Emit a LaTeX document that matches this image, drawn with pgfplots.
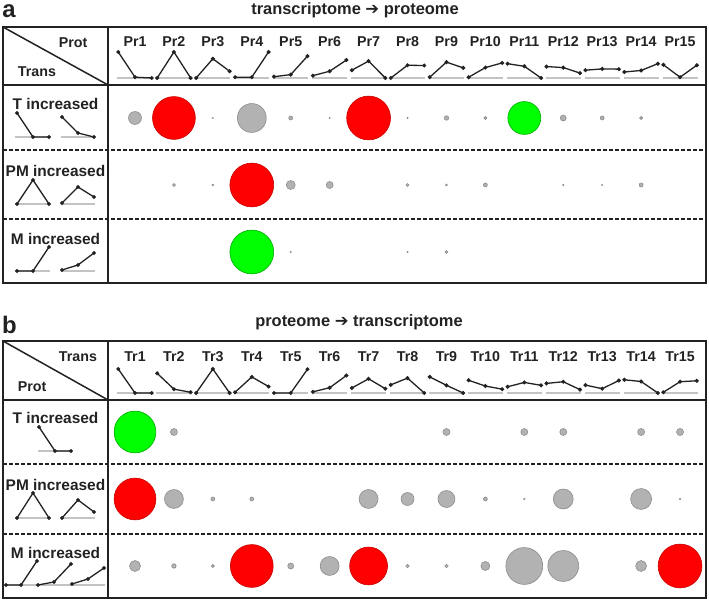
\documentclass[border=0pt]{standalone}
\usepackage{pgfplots}
\usepackage{pgfplotstable}
\pgfplotsset{compat=1.18}
\usepackage{fontspec}
\setmainfont{Liberation Sans}
\newfontfamily\symfont{DejaVu Sans}
\definecolor{txt}{RGB}{34,34,34}
\definecolor{bgray}{RGB}{178,178,178}
\definecolor{bgrayedge}{RGB}{140,140,140}
\definecolor{bred}{RGB}{255,0,0}
\definecolor{bredge}{RGB}{200,0,0}
\definecolor{bgreen}{RGB}{0,255,0}
\definecolor{bgreenedge}{RGB}{0,170,0}
\definecolor{basegray}{RGB}{195,195,195}
\newcommand\hdr{\fontsize{14.3}{16}\selectfont\bfseries}
\newcommand\rowf{\fontsize{15.5}{17}\selectfont\bfseries}
\newcommand\titf{\fontsize{16.5}{18}\selectfont\bfseries}
\newcommand\panf{\fontsize{24}{26}\selectfont\bfseries}

\pgfplotsset{
  panel/.style={anchor=north west, width=703bp, scale only axis,
    xmin=-2.3907, xmax=15.667, y dir=reverse, ticks=none, clip=false,
    axis line style={line width=2.2bp, txt}, unbounded coords=jump},
  bubble/.style 2 args={scatter, only marks, mark=*, forget plot,
    scatter/use mapped color={draw=#1, fill=#2},
    visualization depends on={\thisrow{d}/2 \as \rad},
    scatter/@pre marker code/.append style={/tikz/mark size=\rad},
    line width=0.6bp},
  prof/.style={txt, line width=1.3bp, mark=*, mark size=1.3bp, forget plot},
  base/.style={basegray, line width=1.2bp, forget plot},
}

% header profiles: column, point index, relative height (0 = baseline, 1 = top)
\pgfplotstableread{
c k h
1 0 1.00
1 1 0.03
1 2 0
1 nan nan
2 0 0
2 1 1.00
2 2 0
2 nan nan
3 0 0
3 1 0.74
3 2 0.26
3 nan nan
4 0 0.03
4 1 0.03
4 2 1.00
4 nan nan
5 0 0.05
5 1 0.13
5 2 0.84
5 nan nan
6 0 0.09
6 1 0.26
6 2 0.69
6 nan nan
7 0 0.30
7 1 0.65
7 2 0
7 nan nan
8 0 0
8 1 0.49
8 2 0.48
8 nan nan
9 0 0.03
9 1 0.61
9 2 0.39
9 nan nan
10 0 0.03
10 1 0.40
10 2 0.58
10 nan nan
11 0 0.55
11 1 0.45
11 2 0
11 nan nan
12 0 0.44
12 1 0.40
12 2 0.19
12 nan nan
13 0 0.30
13 1 0.35
13 2 0.34
13 nan nan
14 0 0.23
14 1 0.29
14 2 0.55
14 nan nan
15 0 0.51
15 1 0.03
15 2 0.49
}\profA

\pgfplotstableread{
c k h
1 0 1.00
1 1 0
1 2 0
1 nan nan
2 0 0.82
2 1 0.16
2 2 0.03
2 nan nan
3 0 0
3 1 1.00
3 2 0
3 nan nan
4 0 0.03
4 1 0.67
4 2 0.27
4 nan nan
5 0 0
5 1 0
5 2 0.99
5 nan nan
6 0 0.05
6 1 0.22
6 2 0.73
6 nan nan
7 0 0.21
7 1 0.59
7 2 0.18
7 nan nan
8 0 0.34
8 1 0.62
8 2 0
8 nan nan
9 0 0.67
9 1 0.32
9 2 0
9 nan nan
10 0 0.53
10 1 0.29
10 2 0.16
10 nan nan
11 0 0.26
11 1 0.44
11 2 0.32
11 nan nan
12 0 0.40
12 1 0.47
12 2 0.14
12 nan nan
13 0 0.33
13 1 0.18
13 2 0.52
13 nan nan
14 0 0.55
14 1 0.48
14 2 0
14 nan nan
15 0 0.03
15 1 0.47
15 2 0.51
}\profB

% row-label profiles (picture pixels)
\pgfplotstableread{
px py
17 113
33 137
49 137
nan nan
62 117
78 133
94 137
nan nan
17 204
33 180
49 204
nan nan
62 203
78 187
94 197
nan nan
17 271
33 271
49 247
nan nan
62 270
78 265
94 253
}\rowprofA
\pgfplotstableread{
px py
15 137
50 137
nan nan
61 137
95 137
nan nan
15 204
50 204
nan nan
61 204
95 204
nan nan
15 271
50 271
nan nan
61 271
95 271
}\rowbaseA
\pgfplotstableread{
px py
39 427
55 451
71 451
nan nan
17 518
33 493
49 518
nan nan
62 518
78 500
94 512
nan nan
6 585
21 585
37 561
nan nan
38 585
54 582
71 564
nan nan
72 584
88 579
104 568
}\rowprofB
\pgfplotstableread{
px py
38 451
72 451
nan nan
15 518
50 518
nan nan
61 518
95 518
nan nan
5 585
105 585
}\rowbaseB

% bubbles: column, row (1 = T, 2 = PM, 3 = M increased), diameter
\pgfplotstableread{
x y d
1 1 13
3 1 1.2
4 1 29
5 1 4
6 1 1.2
8 1 1.2
9 1 4.5
10 1 3
12 1 6
13 1 4
14 1 3
2 2 3
3 2 1.5
5 2 9
6 2 7
8 2 3
9 2 2
10 2 4
12 2 1.2
13 2 1.2
14 2 4
5 3 1.2
8 3 1.2
9 3 3
}\grayA
\pgfplotstableread{
x y d
2 1 43
7 1 44
4 2 44
}\redA
\pgfplotstableread{
x y d
11 1 33
4 3 44
}\greenA
\pgfplotstableread{
x y d
2 1 7
9 1 7
11 1 7
12 1 7
14 1 7
15 1 7
2 2 19
3 2 4
4 2 4
7 2 19
8 2 13
9 2 17
10 2 4
11 2 1.5
12 2 20
14 2 21
15 2 1.5
1 3 11
2 3 4.5
3 3 3
5 3 6
6 3 19
8 3 3.5
9 3 3.5
10 3 9
11 3 37
12 3 31
14 3 11
}\grayB
\pgfplotstableread{
x y d
1 2 42
4 3 43
7 3 38
15 3 44
}\redB
\pgfplotstableread{
x y d
1 1 42
}\greenB

\begin{document}
\begin{tikzpicture}[x=1bp,y=1bp]
\useasboundingbox (0,0) rectangle (709,-601);

% ---------------- panel a ----------------
\node[font=\panf, txt, inner sep=0pt] at (9,-11.5) {a};
\node[font=\titf, txt] at (355,-10) {transcriptome {\symfont ➔} proteome};
\node[font=\hdr, txt] at (73,-43) {Prot};
\node[font=\hdr, txt] at (37,-72) {Trans};
\node[font=\rowf, txt] at (55.5,-103.5) {T increased};
\node[font=\rowf, txt] at (55.5,-171) {PM increased};
\node[font=\rowf, txt] at (55.5,-238.5) {M increased};

\begin{axis}[panel, at={(3bp,-27bp)}, height=256bp, ymin=-0.358, ymax=3.463]
\draw[line width=2bp, txt] (axis cs:0.3065,-0.358) -- (axis cs:0.3065,3.463);
\draw[line width=2bp, txt] (axis cs:-2.3907,0.507) -- (axis cs:15.667,0.507);
\draw[line width=1.8bp, txt, dash pattern=on 4bp off 2bp] (axis cs:-2.3907,1.478) -- (axis cs:15.667,1.478);
\draw[line width=1.8bp, txt, dash pattern=on 4bp off 2bp] (axis cs:-2.3907,2.51) -- (axis cs:15.667,2.51);
\draw[line width=1.5bp, txt] (axis cs:-2.3907,-0.358) -- (axis cs:0.3065,0.507);
\pgfplotsinvokeforeach{1,...,15}{\node[font=\hdr, txt] at (axis cs:#1,-0.134) {Pr#1};}
\addplot[base] table[x expr=\thisrow{c}+0.45*(\thisrow{k}-1), y expr=0.403] {\profA};
\addplot[prof] table[x expr=\thisrow{c}+0.43*(\thisrow{k}-1), y expr=0.403-0.388*\thisrow{h}] {\profA};
\addplot[base] table[x expr=1+(\thisrow{px}-135)/38.93, y expr=1+(\thisrow{py}-118)/67] {\rowbaseA};
\addplot[prof] table[x expr=1+(\thisrow{px}-135)/38.93, y expr=1+(\thisrow{py}-118)/67] {\rowprofA};
\addplot[bubble={bgrayedge}{bgray}] table {\grayA};
\addplot[bubble={bredge}{bred}] table {\redA};
\addplot[bubble={bgreenedge}{bgreen}] table {\greenA};
\end{axis}

% ---------------- panel b ----------------
\node[font=\panf, txt, inner sep=0pt] at (9.5,-325) {b};
\node[font=\titf, txt] at (359,-322) {proteome {\symfont ➔} transcriptome};
\node[font=\hdr, txt] at (78,-357) {Trans};
\node[font=\hdr, txt] at (32,-387) {Prot};
\node[font=\rowf, txt] at (55.5,-418) {T increased};
\node[font=\rowf, txt] at (55.5,-485) {PM increased};
\node[font=\rowf, txt] at (55.5,-552.5) {M increased};

\begin{axis}[panel, at={(3bp,-341bp)}, height=257bp, ymin=-0.358, ymax=3.478]
\draw[line width=2bp, txt] (axis cs:0.3065,-0.358) -- (axis cs:0.3065,3.478);
\draw[line width=2bp, txt] (axis cs:-2.3907,0.522) -- (axis cs:15.667,0.522);
\draw[line width=1.8bp, txt, dash pattern=on 4bp off 2bp] (axis cs:-2.3907,1.478) -- (axis cs:15.667,1.478);
\draw[line width=1.8bp, txt, dash pattern=on 4bp off 2bp] (axis cs:-2.3907,2.52) -- (axis cs:15.667,2.52);
\draw[line width=1.5bp, txt] (axis cs:-2.3907,-0.358) -- (axis cs:0.3065,0.522);
\pgfplotsinvokeforeach{1,...,15}{\node[font=\hdr, txt] at (axis cs:#1,-0.119) {Tr#1};}
\addplot[base] table[x expr=\thisrow{c}+0.45*(\thisrow{k}-1), y expr=0.418] {\profB};
\addplot[prof] table[x expr=\thisrow{c}+0.43*(\thisrow{k}-1), y expr=0.418-0.358*\thisrow{h}] {\profB};
\addplot[base] table[x expr=1+(\thisrow{px}-135)/38.93, y expr=1+(\thisrow{py}-432)/67] {\rowbaseB};
\addplot[prof] table[x expr=1+(\thisrow{px}-135)/38.93, y expr=1+(\thisrow{py}-432)/67] {\rowprofB};
\addplot[bubble={bgrayedge}{bgray}] table {\grayB};
\addplot[bubble={bredge}{bred}] table {\redB};
\addplot[bubble={bgreenedge}{bgreen}] table {\greenB};
\end{axis}
\end{tikzpicture}
\end{document}
